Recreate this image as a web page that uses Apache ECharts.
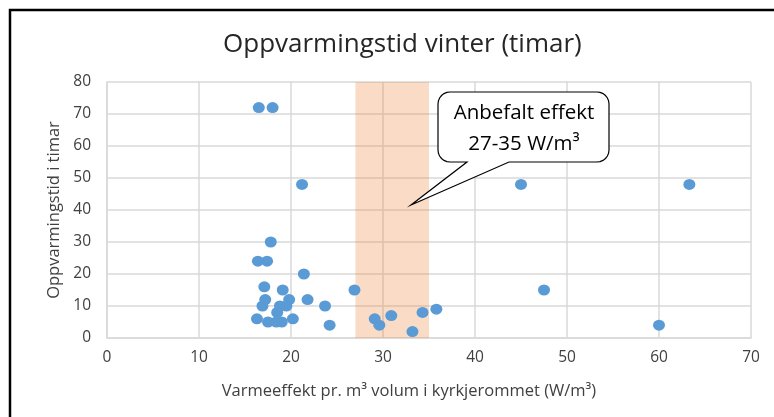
<!DOCTYPE html>
<html>
<head>
<meta charset="utf-8">
<script src="https://cdn.jsdelivr.net/npm/echarts@6/dist/echarts.min.js"></script>
<style>
    html, body { margin: 0; padding: 0; background: #fff; }
    #chart { width: 774px; height: 417px; }
</style>
</head>
<body>
<div id="chart"></div>
<script>
// effekt (W/m3) og oppvarmingstid (timar)
const effekt = [16.5, 18.0, 21.2, 45.0, 63.3, 17.8, 16.4, 17.4, 21.4, 17.1, 19.1, 26.9, 47.5,
    17.2, 19.8, 21.8, 16.9, 18.8, 19.5, 23.7, 18.5, 16.3, 17.5, 18.4, 19.0, 20.2, 24.2,
    29.1, 29.6, 30.9, 34.3, 35.8, 33.2, 60.0]
const timar = [72, 72, 48, 48, 48, 30, 24, 24, 20, 16, 15, 15, 15,
    12, 12, 12, 10, 10, 10, 10, 8, 6, 5, 5, 5, 6, 4,
    6, 4, 7, 8, 9, 2, 4]
const anbefalt = [27, 35]
const calloutLines = ['Anbefalt effekt', '27-35 W/m³']

const points = effekt.map((x, i) => [x, timar[i]])

// callout outline: rounded box with a tail
function calloutShape(x1, y1, x2, y2, r, tailA, tailB, tip) {
    let pts = []
    function corner(cx, cy, a0) {
        for (let k = 0; k <= 6; k++) {
            let a = (a0 + k * 15) * Math.PI / 180
            pts.push([cx + r * Math.cos(a), cy + r * Math.sin(a)])
        }
    }
    corner(x1 + r, y1 + r, 180)
    corner(x2 - r, y1 + r, 270)
    corner(x2 - r, y2 - r, 0)
    pts.push([tailB, y2], tip, [tailA, y2])
    corner(x1 + r, y2 - r, 90)
    return pts
}

let chart = echarts.init(document.getElementById('chart'))
let font = '"Open Sans", sans-serif'

let option = {
    animation: false,
    title: {
        text: 'Oppvarmingstid vinter (timar)',
        left: 218,
        top: 27,
        textStyle: { fontFamily: font, fontSize: 26, fontWeight: 'normal', color: '#262626' }
    },
    grid: { left: 107, right: 23, top: 82, bottom: 79 },
    xAxis: {
        type: 'value',
        min: 0, max: 70, interval: 10,
        name: 'Varmeeffekt pr. m³ volum i kyrkjerommet (W/m³)',
        nameLocation: 'middle',
        nameGap: 45,
        nameTextStyle: { fontFamily: font, fontSize: 16.5, color: '#404040', padding: [0, 40, 0, 0] },
        axisLine: { lineStyle: { color: '#d9d9d9', width: 1.5 } },
        axisTick: { show: false },
        axisLabel: { fontFamily: font, fontSize: 15.5, color: '#404040', margin: 12 },
        splitLine: { lineStyle: { color: '#d9d9d9', width: 1.5 } }
    },
    yAxis: {
        type: 'value',
        min: 0, max: 80, interval: 10,
        name: 'Oppvarmingstid i timar',
        nameLocation: 'middle',
        nameGap: 41,
        nameTextStyle: { fontFamily: font, fontSize: 16.5, color: '#404040' },
        axisLine: { show: true, lineStyle: { color: '#d9d9d9', width: 1.5 } },
        axisTick: { show: false },
        axisLabel: { fontFamily: font, fontSize: 15.5, color: '#404040', margin: 16 },
        splitLine: { lineStyle: { color: '#d9d9d9', width: 1.5 } }
    },
    series: [
        {
            type: 'scatter',
            data: points,
            symbolSize: [12, 11],
            itemStyle: { color: '#5b9bd5', opacity: 1 },
            z: 2
        },
        {
            type: 'scatter',
            data: [],
            z: 5,
            silent: true,
            markArea: {
                silent: true,
                itemStyle: { color: 'rgba(237,125,49,0.28)' },
                data: [[{ xAxis: anbefalt[0] }, { xAxis: anbefalt[1] }]]
            }
        }
    ],
    graphic: [
        {
            type: 'rect',
            shape: { x: 10, y: 10, width: 800, height: 500 },
            style: { fill: 'none', stroke: '#000', lineWidth: 2.5 },
            silent: true,
            z: 10
        },
        {
            type: 'polygon',
            shape: { points: calloutShape(438, 92, 609, 162, 12, 467, 509, [411, 205]) },
            style: { fill: '#fff', stroke: '#000', lineWidth: 1.2 },
            z: 10
        },
        {
            type: 'text',
            x: 524,
            y: 129,
            style: {
                text: calloutLines.join('\n'),
                fontFamily: font,
                fontSize: 20.5,
                lineHeight: 31,
                fill: '#000',
                align: 'center',
                verticalAlign: 'middle'
            },
            z: 11
        }
    ]
}

option && chart.setOption(option)
</script>
</body>
</html>
